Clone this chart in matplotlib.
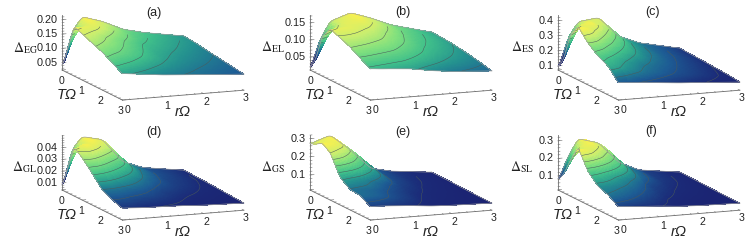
"""
plot.py - six Delta surfaces over (T Omega, r Omega), 2 x 3 panels.
"""
import matplotlib
matplotlib.use("Agg")
import matplotlib.pyplot as plt
import numpy as np
from matplotlib.colors import LinearSegmentedColormap
from mpl_toolkits.mplot3d import proj3d

plt.rcParams["font.family"] = ["Liberation Sans", "DejaVu Sans"]
plt.rcParams["mathtext.fontset"] = "stix"

# sample positions of the value grids below
t_vals = [0, 0.1, 0.3, 0.6, 1, 1.5, 2, 2.5, 3]
r_vals = [0, 0.25, 0.5, 1, 1.5, 2, 3]

# rows follow t_vals, columns follow r_vals
delta_eg = [
    [.024, .155, .205, .183, .150, .133, .109],
    [.045, .160, .205, .182, .150, .132, .108],
    [.105, .175, .200, .175, .145, .130, .107],
    [.197, .195, .190, .165, .140, .125, .105],
    [.187, .180, .170, .150, .130, .120, .100],
    [.172, .165, .158, .140, .122, .112, .095],
    [.158, .150, .145, .130, .115, .105, .090],
    [.138, .132, .127, .115, .105, .097, .085],
    [.116, .112, .108, .100, .095, .090, .080],
]
delta_el = [
    [.012, .100, .150, .170, .150, .125, .094],
    [.020, .100, .150, .170, .150, .125, .094],
    [.050, .110, .155, .168, .148, .124, .093],
    [.124, .145, .160, .162, .143, .120, .092],
    [.162, .162, .160, .150, .133, .115, .090],
    [.150, .150, .147, .138, .124, .108, .086],
    [.138, .135, .132, .125, .113, .100, .081],
    [.120, .118, .115, .110, .100, .090, .075],
    [.103, .100, .098, .093, .083, .076, .068],
]
delta_es = [
    [.073, .280, .380, .400, .265, .210, .153],
    [.090, .290, .390, .395, .265, .210, .152],
    [.160, .320, .410, .380, .260, .205, .150],
    [.330, .410, .420, .340, .250, .200, .148],
    [.430, .410, .370, .300, .235, .195, .146],
    [.350, .340, .310, .260, .215, .185, .142],
    [.300, .280, .260, .220, .195, .175, .138],
    [.265, .250, .230, .200, .180, .165, .134],
    [.186, .180, .175, .165, .153, .145, .126],
]
delta_gl = [
    [.004, .038, .048, .044, .024, .0175, .0125],
    [.010, .038, .048, .044, .024, .0175, .0125],
    [.024, .042, .048, .042, .024, .0170, .0125],
    [.045, .048, .045, .037, .023, .0170, .0120],
    [.040, .040, .037, .030, .021, .0160, .0120],
    [.031, .030, .028, .023, .018, .0150, .0115],
    [.021, .021, .020, .018, .015, .0135, .0110],
    [.017, .017, .016, .015, .0135, .0120, .0105],
    [.014, .0135, .013, .0125, .012, .0110, .0100],
]
delta_gs = [
    [.270, .290, .310, .220, .110, .085, .061],
    [.275, .295, .310, .220, .110, .085, .061],
    [.285, .300, .305, .215, .110, .085, .061],
    [.310, .300, .280, .200, .105, .083, .060],
    [.280, .260, .230, .165, .100, .080, .060],
    [.170, .160, .150, .115, .090, .075, .058],
    [.130, .125, .120, .100, .080, .070, .057],
    [.125, .120, .112, .092, .075, .066, .0565],
    [.090, .088, .085, .078, .067, .062, .056],
]
delta_sl = [
    [.070, .205, .300, .270, .150, .097, .066],
    [.080, .215, .310, .270, .150, .097, .066],
    [.120, .250, .320, .265, .148, .096, .066],
    [.210, .300, .310, .245, .140, .094, .065],
    [.320, .300, .270, .200, .125, .090, .064],
    [.210, .200, .180, .140, .100, .082, .062],
    [.155, .150, .140, .115, .088, .075, .061],
    [.135, .125, .115, .095, .077, .068, .060],
    [.095, .090, .087, .080, .070, .065, .060],
]

panel_names = ["(a)", "(b)", "(c)", "(d)", "(e)", "(f)"]
panel_grids = [delta_eg, delta_el, delta_es, delta_gl, delta_gs, delta_sl]
panel_labels = ["EG", "EL", "ES", "GL", "GS", "SL"]
z_ranges = [(.024, .218), (.012, .174), (.073, .44), (.004, .051), (.017, .322), (.02, .335)]
z_majors = [
    [.05, .10, .15, .20], [.05, .10, .15], [.1, .2, .3, .4],
    [.01, .02, .03, .04], [.1, .2, .3], [.1, .2, .3],
]
z_minors = [.01, .01, .02, .002, .02, .02]
z_fmt = ["%.2f", "%.2f", "%.1f", "%.2f", "%.1f", "%.1f"]

# pixel spots: base corner of each panel, title, Delta label
origins = [(62, 70), (310, 70), (558, 70), (62, 190), (310, 190), (558, 190)]
title_xy = [(154, 13), (403, 12), (652, 12), (154, 132), (403, 132), (651, 131)]
delta_xy = [(25, 48), (273, 47), (523, 47), (25, 167), (273, 167), (522, 167)]

W, H = 747, 240
AXIS_COLOR = "#6e6e6e"

# viridis-like, but bluer at the low end and lighter through the greens
surface_cmap = LinearSegmentedColormap.from_list("surface", [
    (0.00, "#1a1464"), (0.20, "#1b2a78"), (0.33, "#1d5c94"), (0.47, "#24928f"),
    (0.60, "#40c08a"), (0.75, "#80e07e"), (0.88, "#c8ee70"), (1.00, "#f8f050"),
])


def fine_surface(grid):
    tt = np.linspace(0, 3, 91)
    rr = np.linspace(0, 3, 91)
    coarse = np.array(grid)
    by_r = np.array([np.interp(rr, r_vals, row) for row in coarse])
    z = np.array([np.interp(tt, t_vals, by_r[:, j]) for j in range(len(rr))]).T
    # knock the kinks out of the linear resampling
    kernel = np.ones(3) / 3
    for _ in range(3):
        pad = np.pad(z, ((1, 1), (0, 0)), mode="edge")
        z = np.apply_along_axis(lambda c: np.convolve(c, kernel, "valid"), 0, pad)
        pad = np.pad(z, ((0, 0), (1, 1)), mode="edge")
        z = np.apply_along_axis(lambda c: np.convolve(c, kernel, "valid"), 1, pad)
    return tt, rr, z


def to_pixels(ax, t, r, z):
    x, y, _ = proj3d.proj_transform(t, r, z, ax.get_proj())
    return ax.transData.transform((x, y))


def label_at(ax, t, r, z, text, dx, dy, **kw):
    x, y, _ = proj3d.proj_transform(t, r, z, ax.get_proj())
    ax.annotate(text, (x, y), xytext=(dx, dy), textcoords="offset pixels",
                annotation_clip=False, zorder=6, **kw)


def draw_axes(ax, zmin, zmax, majors, minor_step, fmt):
    kw = dict(color=AXIS_COLOR, linewidth=0.6, zorder=0)
    ax.plot([0, 0], [0, 0], [zmin, zmax], **kw)
    ax.plot([0, 3], [0, 0], [zmin, zmin], **kw)
    ax.plot([3, 3], [0, 3], [zmin, zmin], **kw)

    kw["linewidth"] = 0.4
    for v in np.arange(0, 3.01, 0.2):
        is_major = abs(v - round(v)) < 1e-6
        size = 0.09 if is_major else 0.05
        ax.plot([v, v], [0, size], [zmin, zmin], **kw)
        ax.plot([3 - size, 3], [v, v], [zmin, zmin], **kw)

    for v in np.arange(np.ceil(zmin / minor_step) * minor_step, zmax, minor_step):
        ax.plot([0, 0], [0, 0.05], [v, v], **kw)
    for v in majors:
        ax.plot([0, 0], [0, 0.1], [v, v], **kw)
        label_at(ax, 0, 0, v, fmt % v, -4, 0, ha="right", va="center",
                 fontsize=7.8, color="#222222")

    tick_kw = dict(ha="center", va="center", fontsize=7.6, color="#222222")
    for v in range(4):
        label_at(ax, v, 0, zmin, str(v), -v * 0.7, -11, **tick_kw)
    for v in range(4):
        label_at(ax, 3, v, zmin, str(v), 5 - v, -10 + v * 0.6, **tick_kw)

    name_kw = dict(ha="center", va="center", fontsize=10.5, style="italic", color="#222222")
    label_at(ax, 1.5, 0, zmin, "T\u03a9", -26, -10, **name_kw)
    label_at(ax, 3, 1.5, zmin, "r\u03a9", 0, -17, **name_kw)


fig = plt.figure(figsize=(W / 100, H / 100), dpi=100)

for i, grid in enumerate(panel_grids):
    zmin, zmax = z_ranges[i]
    S = 209
    ox, oy = origins[i]
    ax = fig.add_axes([(ox + 90 - S / 2) / W, 1 - (oy - 20 + S / 2) / H, S / W, S / H],
                      projection="3d", computed_zorder=False)
    ax.patch.set_alpha(0)
    ax.set_proj_type("ortho")
    ax.view_init(elev=11.6, azim=-22)
    ax.set_box_aspect((160, 130, 56))
    ax.set_xlim(0, 3, view_margin=0)
    ax.set_ylim(0, 3, view_margin=0)
    ax.set_zlim(zmin, zmax, view_margin=0)
    ax.set_axis_off()

    # slide the axes so the base corner lands on its pixel spot
    px, py = to_pixels(ax, 0, 0, zmin)
    pos = ax.get_position()
    ax.set_position([pos.x0 + (ox - px) / W, pos.y0 + ((H - oy) - py) / H, pos.width, pos.height])

    tt, rr, z = fine_surface(grid)
    T, R = np.meshgrid(tt, rr, indexing="ij")
    norm = plt.Normalize(zmin, z.max())
    ax.plot_surface(T, R, z, facecolors=surface_cmap(norm(z)), rstride=1, cstride=1,
                    shade=False, antialiased=False, linewidth=0, zorder=1)

    levels = np.linspace(zmin, z.max(), 11)[1:-1]
    z_front = np.where(T < 0.45, np.nan, z)
    ax.contour(T, R, z_front, levels=levels, colors="#4a5a5a", linewidths=0.35, zorder=2)

    edge = dict(color="#a0a0a0", linewidth=0.5, zorder=3)
    ax.plot(T[:, 0], R[:, 0], z[:, 0], **edge)
    ax.plot(T[:, -1], R[:, -1], z[:, -1], **edge)
    ax.plot(T[0, :], R[0, :], z[0, :], **edge)
    ax.plot(T[-1, :], R[-1, :], z[-1, :], **edge)

    draw_axes(ax, zmin, zmax, z_majors[i], z_minors[i], z_fmt[i])

    tx, ty = title_xy[i]
    fig.text(tx / W, 1 - ty / H, panel_names[i], ha="center", va="center",
             fontsize=9, color="#222222")
    dx, dy = delta_xy[i]
    fig.text(dx / W, 1 - dy / H, r"$\Delta_{\mathrm{%s}}$" % panel_labels[i],
             ha="center", va="center", fontsize=10, color="#222222")

fig.savefig("out.png", dpi=100)
